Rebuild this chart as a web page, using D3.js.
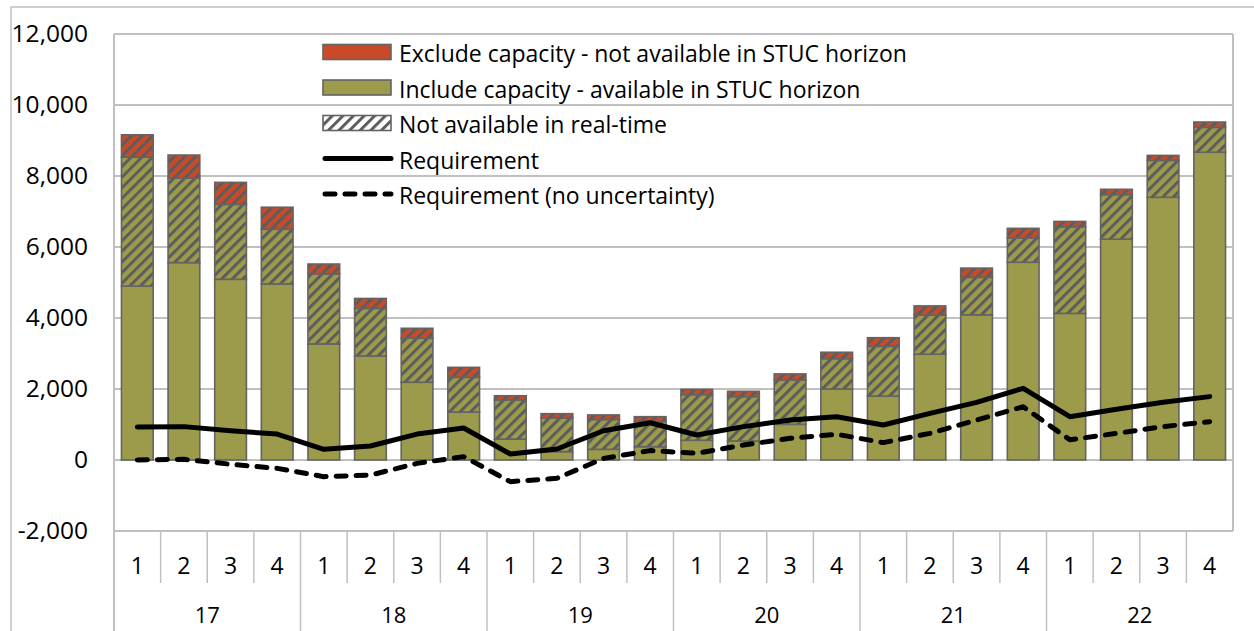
<!DOCTYPE html>
<html>
<head>
<meta charset="utf-8">
<script src="https://cdn.jsdelivr.net/npm/d3@7"></script>
<style>
  html, body { margin: 0; padding: 0; background: #ffffff; }
  svg { display: block; }
</style>
</head>
<body>
<div id="chart"></div>
<script>
// Chart data
const years = ["17", "18", "19", "20", "21", "22"];
const quarters = ["1", "2", "3", "4"];
const includeCap = [4900, 5560, 5090, 4960, 3270, 2930, 2190, 1350, 590, 235, 300, 375,
                    555, 535, 1005, 2000, 1800, 2980, 4090, 5570, 4130, 6220, 7400, 8670];
const notRealTime = [3630, 2380, 2110, 1540, 1970, 1340, 1240, 980, 1100, 950, 840, 715,
                     1285, 1250, 1250, 855, 1400, 1100, 1055, 685, 2440, 1255, 1040, 700];
const excludeCap = [630, 650, 620, 620, 280, 280, 280, 280, 120, 120, 130, 130,
                    150, 150, 170, 180, 245, 260, 260, 270, 150, 150, 140, 150];
const requirement = [930, 940, 825, 730, 300, 395, 730, 900, 170, 310, 825, 1050,
                     705, 940, 1125, 1220, 985, 1315, 1625, 2020, 1220, 1430, 1625, 1785];
const requirementNoUnc = [0, 20, -120, -235, -470, -425, -95, 95, -610, -515, 45, 265,
                          190, 420, 610, 725, 490, 750, 1125, 1500, 570, 750, 940, 1080];
const yTicks = [-2000, 0, 2000, 4000, 6000, 8000, 10000, 12000];
const legendLabels = [
    "Exclude capacity - not available in STUC horizon",
    "Include capacity - available in STUC horizon",
    "Not available in real-time",
    "Requirement",
    "Requirement (no uncertainty)"
];

const width = 1254, height = 631;
const plot = { left: 114, right: 1233, top: 34, bottom: 531 };
const FONT = "'Open Sans', sans-serif";
const OLIVE = "#9b9b4b", RED = "#c94a28", EDGE = "#636363", GRID = "#c0c0c0";

const svg = d3.select("#chart").append("svg")
    .attr("width", width)
    .attr("height", height);

// hatch patterns (olive / red / white background with grey upward diagonals)
const defs = svg.append("defs");
[["hatchOlive", OLIVE], ["hatchRed", RED], ["hatchWhite", "#ffffff"]].forEach(([id, bg]) => {
    const p = defs.append("pattern")
        .attr("id", id)
        .attr("patternUnits", "userSpaceOnUse")
        .attr("width", 7.5)
        .attr("height", 7.5)
        .attr("patternTransform", "rotate(45)");
    p.append("rect").attr("width", 7.5).attr("height", 7.5).attr("fill", bg);
    p.append("line")
        .attr("x1", 1.5).attr("y1", 0).attr("x2", 1.5).attr("y2", 7.5)
        .attr("stroke", "#5c5c5c").attr("stroke-width", 3);
});

// outer chart frame
svg.append("rect")
    .attr("x", 11).attr("y", 7)
    .attr("width", 1300).attr("height", 700)
    .attr("fill", "none").attr("stroke", GRID).attr("stroke-width", 1.5);

const idx = d3.range(includeCap.length);
const x = d3.scaleBand()
    .domain(idx)
    .range([plot.left, plot.right])
    .paddingInner(0.32)
    .paddingOuter(0.16);

const y = d3.scaleLinear()
    .domain([-2000, 12000])
    .range([plot.bottom, plot.top]);

// grid lines
svg.append("g")
    .selectAll("line")
    .data(yTicks)
    .join("line")
    .attr("x1", plot.left).attr("x2", plot.right)
    .attr("y1", d => y(d)).attr("y2", d => y(d))
    .attr("stroke", GRID).attr("stroke-width", 2);

// plot side borders
svg.append("line")
    .attr("x1", plot.left).attr("x2", plot.left)
    .attr("y1", plot.top).attr("y2", height)
    .attr("stroke", GRID).attr("stroke-width", 2);
svg.append("line")
    .attr("x1", plot.right).attr("x2", plot.right)
    .attr("y1", plot.top).attr("y2", plot.bottom)
    .attr("stroke", GRID).attr("stroke-width", 2);

// Y axis labels (plain hyphen for negatives, like the original)
const fmt = d3.formatLocale({ decimal: ".", thousands: ",", grouping: [3], currency: ["", ""], minus: "-" }).format(",");
svg.append("g")
    .attr("transform", `translate(${plot.left},0)`)
    .call(d3.axisLeft(y).tickValues(yTicks).tickSize(0).tickPadding(26).tickFormat(fmt))
    .call(g => g.select(".domain").remove())
    .selectAll("text")
    .style("font-family", FONT)
    .style("font-size", "24.5px")
    .attr("fill", "#000");

// stacked bars
const stackData = idx.map(i => ({ i, inc: includeCap[i], nrt: notRealTime[i], exc: excludeCap[i] }));
const stack = d3.stack().keys(["inc", "nrt", "exc"]);
const fills = { inc: OLIVE, nrt: "url(#hatchOlive)", exc: "url(#hatchRed)" };

svg.append("g")
    .selectAll("g")
    .data(stack(stackData))
    .join("g")
    .attr("fill", s => fills[s.key])
    .selectAll("rect")
    .data(s => s)
    .join("rect")
    .attr("x", d => x(d.data.i))
    .attr("y", d => y(d[1]))
    .attr("width", x.bandwidth())
    .attr("height", d => y(d[0]) - y(d[1]))
    .attr("stroke", EDGE)
    .attr("stroke-width", 1.6);

// requirement lines
const line = d3.line()
    .x((d, i) => x(i) + x.bandwidth() / 2)
    .y(d => y(d));

svg.append("path")
    .datum(requirement)
    .attr("d", line)
    .attr("fill", "none")
    .attr("stroke", "#000")
    .attr("stroke-width", 5)
    .attr("stroke-linejoin", "round")
    .attr("stroke-linecap", "round");

svg.append("path")
    .datum(requirementNoUnc)
    .attr("d", line)
    .attr("fill", "none")
    .attr("stroke", "#000")
    .attr("stroke-width", 5)
    .attr("stroke-dasharray", "10,10")
    .attr("stroke-linejoin", "round")
    .attr("stroke-linecap", "round");

// category axis (quarter / year)
const step = x.step();
const gap = step * x.paddingInner() / 2;
const boundaryX = i => x(i) - gap;

svg.append("g")
    .selectAll("line")
    .data(d3.range(1, idx.length))
    .join("line")
    .attr("x1", boundaryX).attr("x2", boundaryX)
    .attr("y1", plot.bottom)
    .attr("y2", i => i % quarters.length === 0 ? height : 583)
    .attr("stroke", GRID).attr("stroke-width", 1.5);

svg.append("g")
    .selectAll("text")
    .data(idx)
    .join("text")
    .attr("x", i => x(i) + x.bandwidth() / 2)
    .attr("y", 565)
    .attr("text-anchor", "middle")
    .attr("dominant-baseline", "central")
    .style("font-family", FONT)
    .style("font-size", "23px")
    .text(i => quarters[i % quarters.length]);

svg.append("g")
    .selectAll("text")
    .data(years)
    .join("text")
    .attr("x", (d, k) => (boundaryX(k * 4) + (k * 4 + 4 < idx.length ? boundaryX(k * 4 + 4) : plot.right)) / 2)
    .attr("y", 614)
    .attr("text-anchor", "middle")
    .attr("dominant-baseline", "central")
    .style("font-family", FONT)
    .style("font-size", "22px")
    .text(d => d);

// legend
const legend = svg.append("g").attr("transform", "translate(323,52)");
const rowH = 35.5;
const swatchW = 68, swatchH = 15;

const rows = legend.selectAll("g")
    .data(legendLabels)
    .join("g")
    .attr("transform", (d, i) => `translate(0,${i * rowH})`);

rows.filter((d, i) => i < 3)
    .append("rect")
    .attr("x", 0).attr("y", -swatchH / 2)
    .attr("width", swatchW).attr("height", swatchH)
    .attr("fill", (d, i) => [RED, OLIVE, "url(#hatchWhite)"][i])
    .attr("stroke", EDGE).attr("stroke-width", 1.6);

rows.filter((d, i) => i >= 3)
    .append("line")
    .attr("x1", 2).attr("x2", swatchW)
    .attr("y1", 0).attr("y2", 0)
    .attr("stroke", "#000")
    .attr("stroke-width", 5)
    .attr("stroke-linecap", "round")
    .attr("stroke-dasharray", (d, i) => i === 1 ? "10,10" : null);

rows.append("text")
    .attr("x", 76)
    .attr("y", 1)
    .attr("dominant-baseline", "central")
    .style("font-family", FONT)
    .style("font-size", "23px")
    .text(d => d);
</script>
</body>
</html>
